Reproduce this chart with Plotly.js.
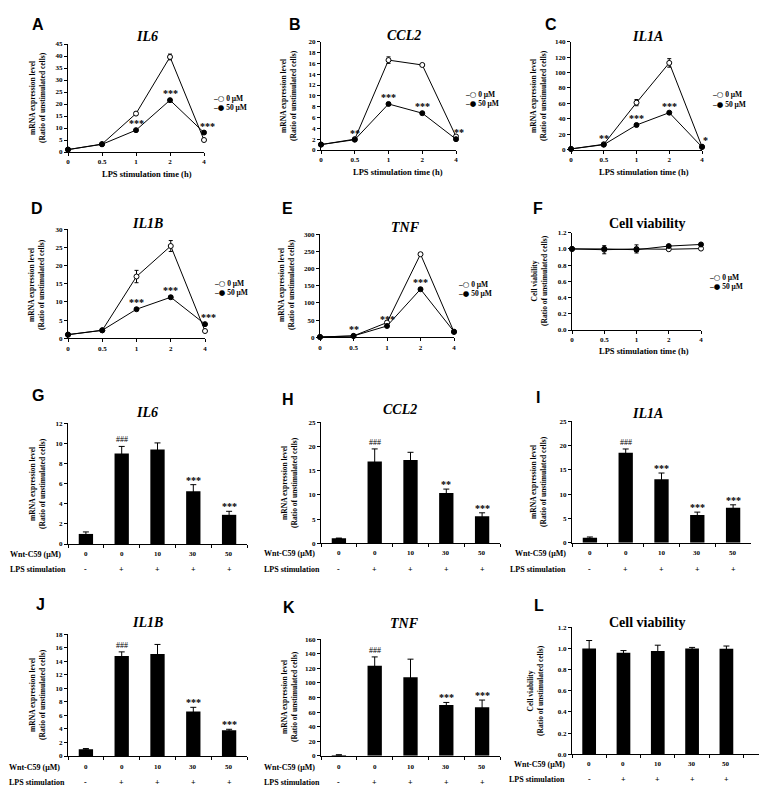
<!DOCTYPE html>
<html><head><meta charset="utf-8">
<script src="https://cdn.plot.ly/plotly-3.0.1.min.js"></script>
<style>html,body{margin:0;padding:0;background:#fff}#chart{width:771px;height:796px}</style>
</head><body><div id="chart"></div>
<script>
// ---------------- DATA ----------------
const timeLabels = ['0', '0.5', '1', '2', '4'];
const doseLabels = ['0 μM', '50 μM'];

// Time course (panels A–F): 0 μM and 50 μM Wnt-C59
const il6Time0 = [1.0, 3.3, 16.0, 39.6, 5.0];
const il6Time50 = [1.0, 3.2, 9.1, 21.6, 8.1];
const il6Time0Err = [0.2, 0.3, 0.6, 1.2, 0.4];
const il6Time50Err = [0.2, 0.3, 0.4, 0.6, 0.4];
const il6TimeSig = ['', '', '***', '***', '***'];

const ccl2Time0 = [1.0, 2.0, 16.6, 15.7, 2.5];
const ccl2Time50 = [1.0, 1.9, 8.5, 6.8, 2.0];
const ccl2Time0Err = [0.05, 0.1, 0.6, 0.2, 0.2];
const ccl2Time50Err = [0.05, 0.1, 0.2, 0.2, 0.1];
const ccl2TimeSig = ['', '**', '***', '***', '**'];

const il1aTime0 = [1.0, 7.0, 61.0, 112.5, 3.9];
const il1aTime50 = [1.0, 6.5, 32.0, 48.0, 3.5];
const il1aTime0Err = [0.2, 0.5, 4.0, 5.5, 0.5];
const il1aTime50Err = [0.2, 0.5, 1.0, 1.5, 0.4];
const il1aTimeSig = ['', '**', '***', '***', '*'];

const il1bTime0 = [1.0, 2.2, 17.0, 25.4, 2.0];
const il1bTime50 = [1.0, 2.2, 8.0, 11.3, 3.9];
const il1bTime0Err = [0.1, 0.2, 1.7, 1.5, 0.2];
const il1bTime50Err = [0.1, 0.2, 0.3, 0.4, 0.3];
const il1bTimeSig = ['', '', '***', '***', '***'];

const tnfTime0 = [1.0, 4.0, 43.0, 242.0, 15.5];
const tnfTime50 = [1.0, 4.0, 33.0, 140.0, 16.5];
const tnfTime0Err = [0.2, 0.5, 2.0, 4.0, 1.0];
const tnfTime50Err = [0.2, 0.5, 1.5, 3.0, 1.0];
const tnfTimeSig = ['', '**', '***', '***', ''];

const viabTime0 = [1.0, 0.99, 1.0, 0.996, 1.004];
const viabTime50 = [1.0, 1.0, 0.99, 1.035, 1.055];
const viabTime0Err = [0.01, 0.05, 0.05, 0.01, 0.01];
const viabTime50Err = [0.01, 0.02, 0.02, 0.01, 0.01];
const viabTimeSig = ['', '', '', '', ''];

// Dose panels (G–L)
const wntDose = ['0', '0', '10', '30', '50'];
const lpsStim = ['-', '+', '+', '+', '+'];

const il6Bar = [1.0, 9.0, 9.4, 5.25, 2.9];
const il6BarErr = [0.2, 0.7, 0.65, 0.65, 0.35];
const il6BarSig = ['', '###', '', '***', '***'];

const ccl2Bar = [1.03, 16.9, 17.2, 10.4, 5.6];
const ccl2BarErr = [0.05, 2.6, 1.6, 0.8, 0.7];
const ccl2BarSig = ['', '###', '', '**', '***'];

const il1aBar = [1.03, 18.5, 13.05, 5.7, 7.2];
const il1aBarErr = [0.15, 0.8, 1.3, 0.6, 0.6];
const il1aBarSig = ['', '###', '***', '***', '***'];

const il1bBar = [1.0, 14.8, 15.1, 6.6, 3.8];
const il1bBarErr = [0.1, 0.6, 1.4, 0.6, 0.15];
const il1bBarSig = ['', '###', '', '***', '***'];

const tnfBar = [1.0, 123.8, 107.7, 69.7, 66.5];
const tnfBarErr = [0.3, 12.0, 25.0, 3.5, 10.0];
const tnfBarSig = ['', '###', '', '***', '***'];

const viabBar = [1.0, 0.96, 0.976, 1.0, 0.998];
const viabBarErr = [0.075, 0.02, 0.055, 0.01, 0.025];
const viabBarSig = ['', '', '', '', ''];

// ---------------- LAYOUT HELPERS ----------------
const W = 771, H = 796;
const SERIF = 'Liberation Serif, Times New Roman, serif';
const SANS = 'Liberation Sans, Arial, sans-serif';
const fx = px => px / W;
const fy = py => 1 - py / H;

const traces = [];
const annotations = [];
const layout = {
  width: W, height: H,
  margin: {l: 0, r: 0, t: 0, b: 0, autoexpand: false},
  paper_bgcolor: '#ffffff', plot_bgcolor: 'rgba(0,0,0,0)',
  showlegend: false, bargap: 0.6,
  font: {family: SERIF, color: '#000'},
  annotations: annotations
};

function axisBase(extra) {
  return Object.assign({
    showline: true, linecolor: '#000', linewidth: 1,
    ticks: 'outside', ticklen: 3, tickwidth: 1, tickcolor: '#000',
    showgrid: false, zeroline: false, fixedrange: true,
    tickfont: {family: SERIF, size: 7, weight: 'bold', color: '#000'}
  }, extra);
}

function note(text, x, y, opts) {
  annotations.push(Object.assign({
    text: text, x: x, y: y, xref: 'paper', yref: 'paper',
    showarrow: false, xanchor: 'center', yanchor: 'middle',
    font: {family: SERIF, size: 8, color: '#000'}
  }, opts || {}));
}

let axN = 0;
function newAxes() {
  axN++;
  const s = axN === 1 ? '' : String(axN);
  return {xa: 'xaxis' + s, ya: 'yaxis' + s, xr: 'x' + s, yr: 'y' + s};
}

function panelDecor(p) {
  note('<b>' + p.letter + '</b>', fx(p.letterPos[0]), fy(p.letterPos[1]),
       {font: {family: SANS, size: 16, color: '#000'}});
  note(p.italic ? '<b><i>' + p.title + '</i></b>' : '<b>' + p.title + '</b>',
       fx(p.titlePos[0]), fy(p.titlePos[1]), {font: {family: SERIF, size: 14, color: '#000'}});
  note('<b>' + p.ytitle + '</b>', fx(p.ytitlePos[0]), fy(p.ytitlePos[1]),
       {textangle: -90, font: {family: SERIF, size: 7.5, color: '#000'}});
}

function linePanel(p) {
  const a = newAxes();
  const [x0, x1, y0, y1] = p.box;
  layout[a.xa] = axisBase({type: 'category', categoryarray: timeLabels, categoryorder: 'array',
    range: [0, timeLabels.length - 1], domain: [fx(x0), fx(x1)], anchor: a.yr});
  layout[a.ya] = axisBase({range: p.yrange, dtick: p.dtick, tick0: 0, tickformat: p.tickformat || '',
    domain: [fy(y1), fy(y0)], anchor: a.xr});
  const series = [
    {y: p.v0, e: p.e0, fill: '#ffffff', name: doseLabels[0]},
    {y: p.v50, e: p.e50, fill: '#000000', name: doseLabels[1]}
  ];
  series.forEach(s => traces.push({
    type: 'scatter', mode: 'lines+markers', x: timeLabels, y: s.y, name: s.name,
    xaxis: a.xr, yaxis: a.yr, cliponaxis: false,
    line: {color: '#000', width: 1},
    marker: {symbol: 'circle', size: 5, color: s.fill, line: {color: '#000', width: 1}},
    error_y: {type: 'data', array: s.e, visible: true, color: '#000', thickness: 1, width: 2}
  }));
  p.sig.forEach((t, i) => {
    if (!t) return;
    annotations.push({text: '<b>' + t + '</b>', x: i, y: p.v50[i], xref: a.xr, yref: a.yr,
      showarrow: false, xanchor: 'center', yanchor: 'bottom', yshift: -1,
      xshift: i === timeLabels.length - 1 ? 3 : 0,
      font: {family: SERIF, size: 10, color: '#000'}});
  });
  // legend
  doseLabels.forEach((d, k) => {
    const sym = k === 0 ? '○' : '●';
    note('<b>–<span style="font-family:DejaVu Sans">' + sym + '</span> ' + d + '</b>',
      fx(p.legendPos[0]), fy(p.legendPos[1] + k * 9.5),
      {xanchor: 'left', font: {family: SERIF, size: 7.5, color: '#000'}});
  });
  if (p.xtitlePos) {
    note('<b>LPS stimulation time (h)</b>', fx(p.xtitlePos[0]), fy(p.xtitlePos[1]),
         {font: {family: SERIF, size: 8.5, color: '#000'}});
  }
  panelDecor(p);
}

function barPanel(p) {
  const a = newAxes();
  const [x0, x1, y0, y1] = p.box;
  const cats = wntDose.map((w, i) => lpsStim[i] + w);
  layout[a.xa] = axisBase({type: 'category', categoryarray: cats, categoryorder: 'array',
    range: p.xrange || [-0.5, cats.length - 0.5], tickson: 'boundaries', showticklabels: false,
    domain: [fx(x0), fx(x1)], anchor: a.yr});
  layout[a.ya] = axisBase({range: p.yrange, dtick: p.dtick, tick0: 0, tickformat: p.tickformat || '',
    domain: [fy(y1), fy(y0)], anchor: a.xr});
  traces.push({
    type: 'bar', x: cats, y: p.v, xaxis: a.xr, yaxis: a.yr, cliponaxis: false,
    marker: {color: '#000', line: {color: '#000', width: 0}},
    error_y: {type: 'data', array: p.e, visible: true, color: '#000', thickness: 1, width: 3}
  });
  p.sig.forEach((t, i) => {
    if (!t) return;
    const hash = t.charAt(0) === '#';
    annotations.push({text: hash ? t : '<b>' + t + '</b>', x: i, y: p.v[i] + p.e[i],
      xref: a.xr, yref: a.yr, showarrow: false, xanchor: 'center', yanchor: 'bottom',
      yshift: hash ? 0 : -3,
      font: {family: SERIF, size: hash ? 8 : 10, color: '#000'}});
  });
  cats.forEach((c, i) => {
    annotations.push({text: '<b>' + wntDose[i] + '</b>', x: i, y: fy(p.rowY[0]), xref: a.xr, yref: 'paper',
      showarrow: false, xanchor: 'center', yanchor: 'middle', font: {family: SERIF, size: 7, color: '#000'}});
    annotations.push({text: '<b>' + lpsStim[i] + '</b>', x: i, y: fy(p.rowY[1]), xref: a.xr, yref: 'paper',
      showarrow: false, xanchor: 'center', yanchor: 'middle', font: {family: SERIF, size: 8, color: '#000'}});
  });
  note('<b>Wnt-C59 (μM)</b>', fx(p.rowLabelX), fy(p.rowY[0]),
       {xanchor: p.rowAnchor, font: {family: SERIF, size: 8, color: '#000'}});
  note('<b>LPS stimulation</b>', fx(p.rowLabelX), fy(p.rowY[1]),
       {xanchor: p.rowAnchor, font: {family: SERIF, size: 8, color: '#000'}});
  panelDecor(p);
}

const YT = 'mRNA expression level<br>(Ratio of unstimulated cells)';
const YV = 'Cell viability<br>(Ratio of unstimulated cells)';

linePanel({letter: 'A', title: 'IL6', italic: true, ytitle: YT, box: [68, 204, 44, 152], yrange: [0, 45], dtick: 5,
  v0: il6Time0, v50: il6Time50, e0: il6Time0Err, e50: il6Time50Err, sig: il6TimeSig,
  letterPos: [38, 24], titlePos: [147, 37], ytitlePos: [37, 98], xtitlePos: [147, 174], legendPos: [211, 98]});
linePanel({letter: 'B', title: 'CCL2', italic: true, ytitle: YT, box: [321, 456, 41.7, 150], yrange: [0, 20], dtick: 2,
  v0: ccl2Time0, v50: ccl2Time50, e0: ccl2Time0Err, e50: ccl2Time50Err, sig: ccl2TimeSig,
  letterPos: [295, 24], titlePos: [404, 35], ytitlePos: [289, 96], xtitlePos: [398, 172], legendPos: [463, 94]});
linePanel({letter: 'C', title: 'IL1A', italic: true, ytitle: YT, box: [571, 702, 41.7, 149.7], yrange: [0, 140], dtick: 20,
  v0: il1aTime0, v50: il1aTime50, e0: il1aTime0Err, e50: il1aTime50Err, sig: il1aTimeSig,
  letterPos: [551, 24], titlePos: [647, 37], ytitlePos: [539, 96], xtitlePos: [644, 172], legendPos: [710, 95]});
linePanel({letter: 'D', title: 'IL1B', italic: true, ytitle: YT, box: [68, 205, 229.3, 338.3], yrange: [0, 30], dtick: 5,
  v0: il1bTime0, v50: il1bTime50, e0: il1bTime0Err, e50: il1bTime50Err, sig: il1bTimeSig,
  letterPos: [37, 208], titlePos: [147, 223], ytitlePos: [36, 285], legendPos: [212, 283]});
linePanel({letter: 'E', title: 'TNF', italic: true, ytitle: YT, box: [320, 454, 234.3, 337.3], yrange: [0, 300], dtick: 50,
  v0: tnfTime0, v50: tnfTime50, e0: tnfTime0Err, e50: tnfTime50Err, sig: tnfTimeSig,
  letterPos: [287, 208], titlePos: [405, 227], ytitlePos: [286, 285], legendPos: [456, 284]});
linePanel({letter: 'F', title: 'Cell viability', italic: false, ytitle: YV, box: [572, 701, 232.7, 330], yrange: [0, 1.2], dtick: 0.2,
  tickformat: '.1f',
  v0: viabTime0, v50: viabTime50, e0: viabTime0Err, e50: viabTime50Err, sig: viabTimeSig,
  letterPos: [538, 208], titlePos: [647, 223], ytitlePos: [540, 281], xtitlePos: [644, 351], legendPos: [707, 277]});

barPanel({letter: 'G', title: 'IL6', italic: true, ytitle: YT, box: [68, 247, 423.3, 544], yrange: [0, 12], dtick: 2,
  v: il6Bar, e: il6BarErr, sig: il6BarSig, rowY: [554, 569], rowLabelX: 8, rowAnchor: 'left',
  letterPos: [38, 395], titlePos: [147, 412], ytitlePos: [37, 484]});
barPanel({letter: 'H', title: 'CCL2', italic: true, ytitle: YT, box: [321, 500, 422.3, 543.3], yrange: [0, 25], dtick: 5,
  v: ccl2Bar, e: ccl2BarErr, sig: ccl2BarSig, rowY: [553, 569], rowLabelX: 262, rowAnchor: 'left',
  letterPos: [288, 400], titlePos: [400, 410], ytitlePos: [289, 483]});
barPanel({letter: 'I', title: 'IL1A', italic: true, ytitle: YT, box: [572, 751, 421.3, 542.7], yrange: [0, 25], dtick: 5,
  v: il1aBar, e: il1aBarErr, sig: il1aBarSig, rowY: [553, 569], rowLabelX: 568, rowAnchor: 'right',
  letterPos: [538, 397], titlePos: [647, 413], ytitlePos: [538, 482]});
barPanel({letter: 'J', title: 'IL1B', italic: true, ytitle: YT, box: [68, 247, 634.3, 756], yrange: [0, 18], dtick: 2,
  v: il1bBar, e: il1bBarErr, sig: il1bBarSig, rowY: [767, 782], rowLabelX: 7, rowAnchor: 'left',
  letterPos: [40, 604], titlePos: [147, 622], ytitlePos: [37, 695]});
barPanel({letter: 'K', title: 'TNF', italic: true, ytitle: YT, box: [321, 500, 639.3, 755.7], yrange: [0, 160], dtick: 20,
  v: tnfBar, e: tnfBarErr, sig: tnfBarSig, rowY: [767, 782], rowLabelX: 262, rowAnchor: 'left',
  letterPos: [289, 607], titlePos: [404, 623], ytitlePos: [289, 697]});
barPanel({letter: 'L', title: 'Cell viability', italic: false, ytitle: YV, box: [572, 759, 627.3, 754.3], yrange: [0, 1.2], dtick: 0.2,
  tickformat: '.1f', xrange: [-0.5, 4.95],
  v: viabBar, e: viabBarErr, sig: viabBarSig, rowY: [764, 779], rowLabelX: 567, rowAnchor: 'right',
  letterPos: [539, 605], titlePos: [647, 622], ytitlePos: [535, 691]});

Plotly.newPlot('chart', traces, layout, {displayModeBar: false, staticPlot: true});
</script>
</body></html>
